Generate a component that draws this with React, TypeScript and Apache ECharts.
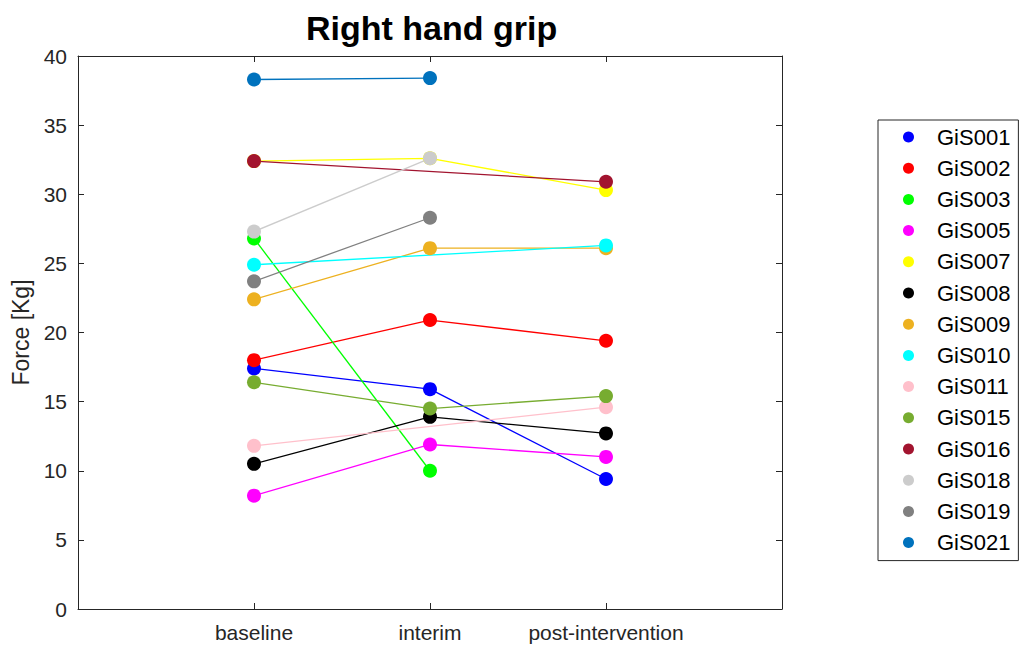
import React, { useEffect, useRef } from "react";
import * as echarts from "echarts";

const categories = ["baseline", "interim", "post-intervention"];
const yTicks = [0, 5, 10, 15, 20, 25, 30, 35, 40];

const subjects = [
  "GiS001", "GiS002", "GiS003", "GiS005", "GiS007", "GiS008", "GiS009",
  "GiS010", "GiS011", "GiS015", "GiS016", "GiS018", "GiS019", "GiS021",
];

const GiS001 = [17.4, 15.9, 9.4];
const GiS002 = [18.0, 20.9, 19.4];
const GiS003 = [26.8, 10.0, null];
const GiS005 = [8.2, 11.9, 11.0];
const GiS007 = [32.4, 32.6, 30.3];
const GiS008 = [10.5, 13.9, 12.7];
const GiS009 = [22.4, 26.1, 26.1];
const GiS010 = [24.9, null, 26.3];
const GiS011 = [11.8, null, 14.6];
const GiS015 = [16.4, 14.5, 15.4];
const GiS016 = [32.4, null, 30.9];
const GiS018 = [27.3, 32.6, null];
const GiS019 = [23.7, 28.3, null];
const GiS021 = [38.3, 38.4, null];

const values: (number | null)[][] = [
  GiS001, GiS002, GiS003, GiS005, GiS007, GiS008, GiS009,
  GiS010, GiS011, GiS015, GiS016, GiS018, GiS019, GiS021,
];

const colors = [
  "#0000FF", "#FF0000", "#00FF00", "#FF00FF", "#FFFF00", "#000000", "#EDB120",
  "#00FFFF", "#FFC0CB", "#77AC30", "#A2142F", "#CCCCCC", "#808080", "#0072BD",
];

const FONT = "'Liberation Sans', Arial, Helvetica, sans-serif";
const AXIS = "#262626";

export default function App() {
  const ref = useRef<HTMLDivElement>(null);
  useEffect(() => {
    if (!ref.current) return;
    const chart = echarts.init(ref.current, null, { renderer: "svg" });
    const catIdx = categories.map((_, i) => i + 1);
    const series = subjects.map((name, s) => ({
      name,
      type: "line",
      xAxisIndex: 0,
      yAxisIndex: 0,
      data: values[s]
        .map((v, i) => (v === null ? null : [i + 1, v]))
        .filter((d) => d !== null),
      symbol: "circle",
      symbolSize: 14,
      showSymbol: true,
      itemStyle: { color: colors[s] },
      lineStyle: { color: colors[s], width: 1.3 },
      emphasis: { disabled: true },
      silent: true,
    }));
    const xBase = {
      type: "value",
      min: 0,
      max: 4,
      interval: 1,
      splitLine: { show: false },
      axisLine: { show: true, onZero: false, lineStyle: { color: AXIS, width: 1 } },
      axisTick: {
        show: true,
        inside: true,
        length: 6,
        customValues: catIdx,
        lineStyle: { color: AXIS },
      },
    };
    const yBase = {
      type: "value",
      min: 0,
      max: 40,
      interval: 5,
      splitLine: { show: false },
      axisLine: { show: true, onZero: false, lineStyle: { color: AXIS, width: 1 } },
      axisTick: {
        show: true,
        inside: true,
        length: 6,
        lineStyle: { color: AXIS },
      },
    };
    chart.setOption({
      animation: false,
      backgroundColor: "#ffffff",
      textStyle: { fontFamily: FONT },
      title: {
        text: "Right hand grip",
        left: 301,
        top: 6,
        textStyle: {
          fontFamily: FONT,
          fontSize: 34,
          fontWeight: "bold",
          color: "#000000",
        },
      },
      grid: {
        left: 78,
        right: 240,
        top: 56,
        bottom: 37,
        outerBoundsMode: "none",
      },
      legend: {
        orient: "vertical",
        left: 878,
        top: 120,
        padding: [6, 8, 7, 25],
        itemGap: 9.2,
        itemWidth: 11,
        itemHeight: 11,
        icon: "circle",
        borderColor: AXIS,
        borderWidth: 1,
        backgroundColor: "#ffffff",
        selectedMode: false,
        textStyle: {
          fontFamily: FONT,
          fontSize: 22,
          color: "#000000",
          padding: [0, 0, 0, 18],
        },
        data: subjects,
      },
      xAxis: [
        {
          ...xBase,
          position: "bottom",
          axisLabel: {
            show: true,
            customValues: catIdx,
            formatter: (v: number) => categories[v - 1] ?? "",
            fontFamily: FONT,
            fontSize: 21,
            color: AXIS,
            margin: 13,
          },
        },
        {
          ...xBase,
          position: "top",
          axisLabel: { show: false },
        },
      ],
      yAxis: [
        {
          ...yBase,
          position: "left",
          name: "Force [Kg]",
          nameLocation: "middle",
          nameRotate: 90,
          nameGap: 42,
          nameTextStyle: { fontFamily: FONT, fontSize: 23, color: AXIS },
          axisLabel: {
            show: true,
            fontFamily: FONT,
            fontSize: 21,
            color: AXIS,
            margin: 11,
            customValues: yTicks,
          },
        },
        {
          ...yBase,
          position: "right",
          axisLabel: { show: false },
        },
      ],
      series,
    });
    return () => chart.dispose();
  }, []);
  return (
    <div
      ref={ref}
      style={{ position: "fixed", left: 0, top: 0, width: 1022, height: 646 }}
    />
  );
}
